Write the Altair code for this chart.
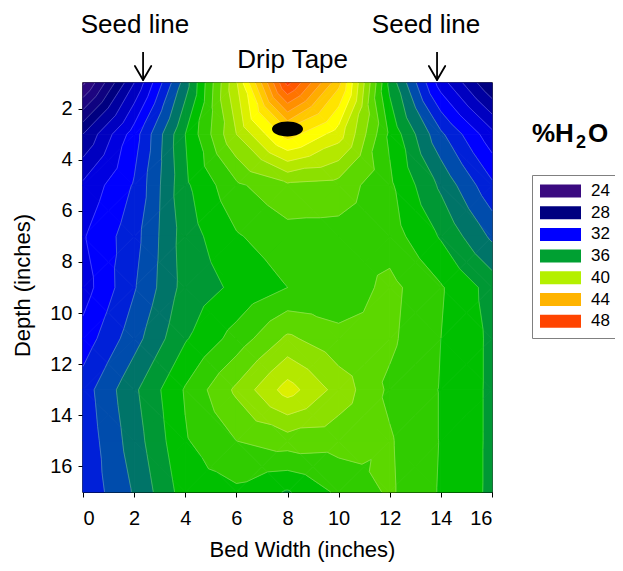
import altair as alt
import numpy as np
import pandas as pd

# ---------------- data ----------------
bed_width = [0, 2, 4, 6, 8, 10, 12, 14, 16]
depth = [1, 3, 5, 7, 9, 11, 13, 15, 17]
water = [
    [24.8, 30.0, 35.5, 41.9, 50.3, 45.3, 36.7, 31.5, 28.0],
    [29.0, 32.5, 37.0, 41.0, 44.5, 42.5, 37.8, 34.2, 31.3],
    [31.2, 33.1, 36.8, 38.8, 39.8, 39.6, 38.2, 35.8, 33.2],
    [31.9, 33.6, 36.5, 37.9, 38.6, 38.6, 38.5, 36.9, 34.8],
    [31.5, 33.9, 36.4, 37.2, 38.0, 38.3, 39.3, 38.1, 36.6],
    [32.4, 34.6, 36.9, 38.4, 40.2, 39.3, 39.2, 38.0, 36.8],
    [33.5, 35.8, 38.1, 40.2, 42.45, 40.6, 38.8, 37.95, 36.8],
    [33.3, 35.5, 37.9, 39.0, 39.5, 39.4, 39.1, 37.95, 36.8],
    [33.2, 35.1, 37.5, 37.8, 36.9, 38.2, 39.15, 37.9, 36.8],
]

band_levels = list(range(24, 51))
band_colors = [
    "#3a0a80", "#2c0880", "#1d0580", "#0f0380", "#000080", "#0000a0",
    "#0000c0", "#0000e0", "#0000ff", "#0020d8", "#004cac", "#007468",
    "#009834", "#00c000", "#30cc00", "#5cd800", "#8ce000", "#b4e800",
    "#dcf000", "#ffff00", "#ffe400", "#ffc800", "#ffac00", "#ff9000",
    "#ff7400", "#ff5800", "#ff3c00",
]

legend_levels = [24, 28, 32, 36, 40, 44, 48]
legend_colors = ["#3a0a80", "#000080", "#0000ff", "#00a032", "#b4f000", "#ffb400", "#ff4400"]

x_ticks = [0, 2, 4, 6, 8, 10, 12, 14, 16]
y_ticks = [2, 4, 6, 8, 10, 12, 14, 16]

tape_x = [8]
tape_y = [2.8]
seed_label_x = [2.03, 13.42]
arrow_x = [2.35, 13.85]
drip_label_x = [8.2]

FONT = "Liberation Sans"

# ---------------- contour bands (linear on triangles) ----------------
def clip(poly, lev, above):
    out = []
    n = len(poly)
    for i in range(n):
        a = poly[i]
        b = poly[(i + 1) % n]
        ia = a[2] >= lev if above else a[2] <= lev
        ib = b[2] >= lev if above else b[2] <= lev
        if ia:
            out.append(a)
        if ia != ib:
            t = (lev - a[2]) / (b[2] - a[2])
            out.append((a[0] + t * (b[0] - a[0]), a[1] + t * (b[1] - a[1]), lev))
    return out


def area(p):
    s = 0.0
    for i in range(len(p)):
        x0, y0 = p[i][0], p[i][1]
        x1, y1 = p[(i + 1) % len(p)][0], p[(i + 1) % len(p)][1]
        s += x0 * y1 - x1 * y0
    return abs(s) / 2


tris = []
for r in range(len(depth) - 1):
    for c in range(len(bed_width) - 1):
        tl = (bed_width[c], depth[r], water[r][c])
        tr = (bed_width[c + 1], depth[r], water[r][c + 1])
        bl = (bed_width[c], depth[r + 1], water[r + 1][c])
        br = (bed_width[c + 1], depth[r + 1], water[r + 1][c + 1])
        ctr = ((tl[0] + tr[0]) / 2, (tl[1] + bl[1]) / 2,
               (tl[2] + tr[2] + bl[2] + br[2]) / 4)
        tris += [(tl, tr, ctr), (tr, br, ctr), (br, bl, ctr), (bl, tl, ctr)]

poly_rows = []
pid = 0
for tri in tris:
    vs = [p[2] for p in tri]
    for lev in range(int(np.floor(min(vs))), int(np.floor(max(vs))) + 1):
        p = clip(list(tri), lev, True)
        if len(p) < 3:
            continue
        p = clip(p, lev + 1, False)
        if len(p) < 3 or area(p) < 1e-7:
            continue
        band = min(max(lev, band_levels[0]), band_levels[-1])
        for k, q in enumerate(p + [p[0]]):
            poly_rows.append({"pid": pid, "k": k, "x": q[0], "y": q[1], "band": band})
        pid += 1
poly_df = pd.DataFrame(poly_rows)

seg_rows = []
sid = 0
for tri in tris:
    vs = [p[2] for p in tri]
    for lev in range(int(np.ceil(min(vs))), int(np.floor(max(vs))) + 1):
        pts = []
        for i in range(3):
            a = tri[i]
            b = tri[(i + 1) % 3]
            if (a[2] >= lev) != (b[2] >= lev):
                t = (lev - a[2]) / (b[2] - a[2])
                pts.append((a[0] + t * (b[0] - a[0]), a[1] + t * (b[1] - a[1])))
        if len(pts) == 2:
            for k, q in enumerate(pts):
                seg_rows.append({"sid": sid, "k": k, "x": q[0], "y": q[1]})
            sid += 1
seg_df = pd.DataFrame(seg_rows)

# ---------------- chart ----------------
xs = alt.Scale(domain=[0, 16], nice=False, zero=False)
ys = alt.Scale(domain=[1, 17], nice=False, zero=False, reverse=True)
x_axis = alt.Axis(values=x_ticks, title="Bed Width (inches)", titleX=219, titleY=57,
                  titleBaseline="middle", labelPadding=11)
y_axis = alt.Axis(values=y_ticks, title="Depth (inches)", titleX=-61, titleY=202,
                  titleBaseline="middle", labelPadding=6)
X = alt.X("x:Q", scale=xs, axis=x_axis)
Y = alt.Y("y:Q", scale=ys, axis=y_axis)

legend_df = pd.DataFrame({"lev": legend_levels})
legend_layer = alt.Chart(legend_df).mark_point(filled=True, size=4, opacity=1).encode(
    x=alt.value(200), y=alt.value(200),
    color=alt.Color("lev:O", scale=alt.Scale(domain=legend_levels, range=legend_colors),
                    legend=alt.Legend(
                        title=None, orient="none", legendX=449, legendY=92,
                        symbolType="M-1,-0.317H1V0.317H-1Z", symbolSize=1681,
                        symbolStrokeWidth=0, clipHeight=16, rowPadding=4.7,
                        labelFont=FONT, labelFontSize=17, labelColor="black",
                        labelOffset=10, padding=8, strokeColor="#808080",
                        fillColor="white",
                        labelExpr="datum.label + '            '")),
)

band_scale = alt.Scale(domain=band_levels, range=band_colors)
bands = alt.Chart(poly_df).mark_line(strokeWidth=1, strokeJoin="round").encode(
    x=X, y=Y,
    fill=alt.Fill("band:O", scale=band_scale, legend=None),
    stroke=alt.Stroke("band:O", scale=band_scale, legend=None),
    detail="pid:N",
    order="k:Q",
)

lines = alt.Chart(seg_df).mark_line(stroke="white", strokeWidth=0.7, opacity=0.35).encode(
    x=X, y=Y, detail="sid:N", order="k:Q",
)

ellipse_path = ("M-1,0 C-1,-0.265 -0.552,-0.48 0,-0.48 C0.552,-0.48 1,-0.265 1,0 "
                "C1,0.265 0.552,0.48 0,0.48 C-0.552,0.48 -1,0.265 -1,0 Z")
tape = alt.Chart(pd.DataFrame({"x": tape_x, "y": tape_y})).mark_point(
    shape=ellipse_path, size=961, filled=True, color="black", opacity=1
).encode(x=X, y=Y)

arrow_df = pd.DataFrame({"x": arrow_x, "xl": [a - 0.32 for a in arrow_x],
                         "xr": [a + 0.32 for a in arrow_x]})
shaft = alt.Chart(arrow_df).mark_rule(color="black", strokeWidth=1.8).encode(
    x=X, y=alt.value(-31), y2=alt.value(-3))
arm_l = alt.Chart(arrow_df).mark_rule(color="black", strokeWidth=1.8, strokeCap="round").encode(
    x=alt.X("xl:Q", scale=xs, axis=x_axis), x2="x:Q", y=alt.value(-17), y2=alt.value(-3))
arm_r = alt.Chart(arrow_df).mark_rule(color="black", strokeWidth=1.8, strokeCap="round").encode(
    x=alt.X("xr:Q", scale=xs, axis=x_axis), x2="x:Q", y=alt.value(-17), y2=alt.value(-3))

seed_text = alt.Chart(pd.DataFrame({"x": seed_label_x, "t": ["Seed line", "Seed line"]})).mark_text(
    font=FONT, fontSize=26, color="black", baseline="alphabetic", align="center"
).encode(x=X, y=alt.value(-50), text="t:N")

drip_text = alt.Chart(pd.DataFrame({"x": drip_label_x, "t": ["Drip Tape"]})).mark_text(
    font=FONT, fontSize=26, color="black", baseline="alphabetic", align="center"
).encode(x=X, y=alt.value(-15), text="t:N")

title_main = alt.Chart(pd.DataFrame({"t": ["%H"]})).mark_text(
    font=FONT, fontSize=26, fontWeight="bold", color="black", baseline="alphabetic", align="left"
).encode(x=alt.value(449), y=alt.value(59), text="t:N")
title_sub = alt.Chart(pd.DataFrame({"t": ["2"]})).mark_text(
    font=FONT, fontSize=18, fontWeight="bold", color="black", baseline="alphabetic", align="left"
).encode(x=alt.value(493), y=alt.value(65), text="t:N")
title_end = alt.Chart(pd.DataFrame({"t": ["O"]})).mark_text(
    font=FONT, fontSize=26, fontWeight="bold", color="black", baseline="alphabetic", align="left"
).encode(x=alt.value(505), y=alt.value(59), text="t:N")

chart = alt.layer(
    legend_layer, bands, lines, tape, shaft, arm_l, arm_r,
    seed_text, drip_text, title_main, title_sub, title_end,
).properties(
    width=409, height=409,
    autosize=alt.AutoSizeParams(type="none"),
    padding={"left": 75, "top": 75, "right": 123, "bottom": 71},
    background="white",
).configure_view(
    stroke="black", strokeWidth=1.5
).configure_axis(
    labelFont=FONT, titleFont=FONT, labelFontSize=20, titleFontSize=22,
    titleFontWeight="normal", labelColor="black", titleColor="black",
    tickColor="black", domainColor="black", tickSize=5, grid=False,
)

chart.save("out.html", embed_options={"renderer": "svg", "actions": False})
